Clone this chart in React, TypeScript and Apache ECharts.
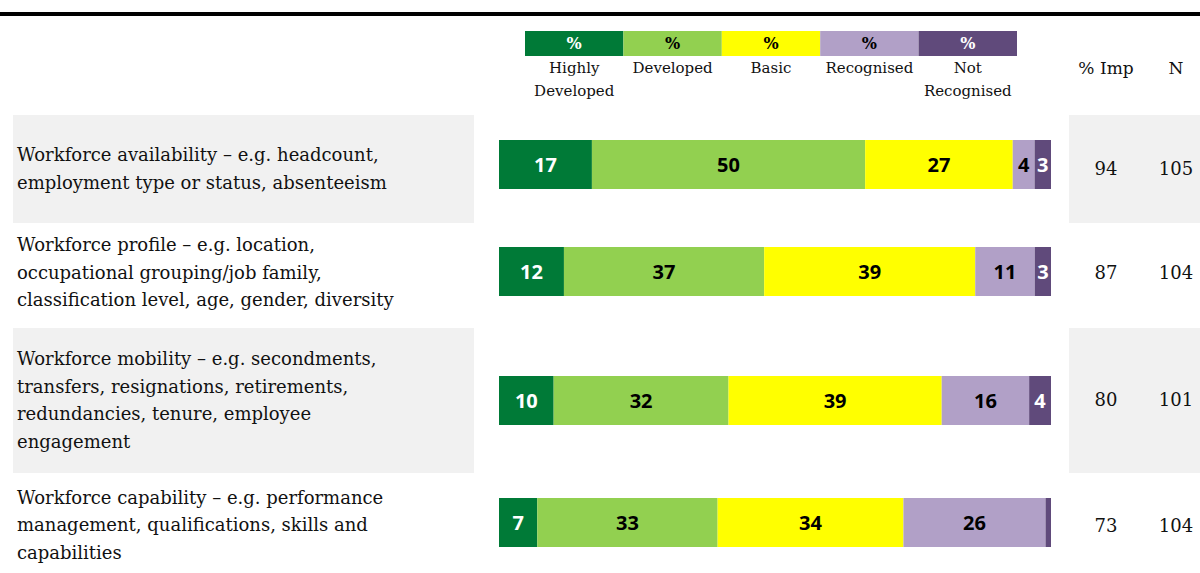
import React, { useEffect, useRef } from 'react';
import * as echarts from 'echarts';

const categories = [
  'Workforce availability – e.g. headcount,\nemployment type or status, absenteeism',
  'Workforce profile – e.g. location,\noccupational grouping/job family,\nclassification level, age, gender, diversity',
  'Workforce mobility – e.g. secondments,\ntransfers, resignations, retirements,\nredundancies, tenure, employee\nengagement',
  'Workforce capability – e.g. performance\nmanagement, qualifications, skills and\ncapabilities',
];
const levelNames = ['Highly\nDeveloped', 'Developed', 'Basic', 'Recognised', 'Not\nRecognised'];
const highlyDeveloped = [17, 12, 10, 7];
const developed = [50, 37, 32, 33];
const basic = [27, 39, 39, 34];
const recognised = [4, 11, 16, 26];
const notRecognised = [3, 3, 4, 1];
const pctImp = [94, 87, 80, 73];
const nValues = [105, 104, 101, 104];
const headers = ['% Imp', 'N'];

const colors = ['#007A37', '#92D050', '#FFFF00', '#B1A0C7', '#604A7B'];
const labelColors = ['#FFFFFF', '#000000', '#000000', '#000000', '#FFFFFF'];

const SERIF = '"DejaVu Serif", "Liberation Serif", serif';
const SANS = '"Open Sans", "Noto Sans", sans-serif';

export default function App() {
  const ref = useRef<HTMLDivElement>(null);
  useEffect(() => {
    if (!ref.current) return;
    const chart = echarts.init(ref.current, undefined, { renderer: 'svg' });
    const levels = [highlyDeveloped, developed, basic, recognised, notRecognised];
    const rowTops = [140, 247, 376, 498];
    const rowCenters = [168, 272, 399, 525];
    const labelCenters = [168.5, 272, 400, 524.5];
    const barH = 49;
    const barLeft = 499;
    const barWidthPx = 552;
    const greyBands = [
      { row: 0, y: 115, h: 108 },
      { row: 2, y: 328, h: 145 },
    ];

    const grids: any[] = [];
    const xAxes: any[] = [];
    const yAxes: any[] = [];
    const series: any[] = [];
    categories.forEach((cat, i) => {
      grids.push({ left: barLeft, width: barWidthPx, top: rowTops[i], height: barH });
      xAxes.push({ gridIndex: i, type: 'value', min: 0, max: 100, show: false });
      yAxes.push({
        gridIndex: i,
        type: 'category',
        data: [cat],
        axisLine: { show: false },
        axisTick: { show: false },
        splitLine: { show: false },
        axisLabel: { show: false },
      });
      const rowSum = levels.reduce((s, arr) => s + arr[i], 0);
      levels.forEach((arr, j) => {
        const raw = arr[i];
        series.push({
          type: 'bar',
          name: levelNames[j],
          xAxisIndex: i,
          yAxisIndex: i,
          stack: 'row' + i,
          barWidth: barH,
          data: [(raw / rowSum) * 100],
          itemStyle: { color: colors[j] },
          label: {
            show: raw >= 2,
            position: 'inside',
            formatter: () => String(raw),
            color: labelColors[j],
            fontFamily: SANS,
            fontWeight: 'bold',
            fontSize: 20,
          },
        });
      });
    });

    const graphic: any[] = [];
    graphic.push({ type: 'rect', z: -10, shape: { x: 0, y: 12, width: 1200, height: 4 }, style: { fill: '#000' } });
    greyBands.forEach((b) => {
      graphic.push({ type: 'rect', z: -10, shape: { x: 13, y: b.y, width: 461, height: b.h }, style: { fill: '#F1F1F1' } });
      graphic.push({ type: 'rect', z: -10, shape: { x: 1069, y: b.y, width: 131, height: b.h }, style: { fill: '#F1F1F1' } });
    });
    categories.forEach((cat, i) => {
      graphic.push({
        type: 'text', z: 5, x: 17, y: labelCenters[i],
        style: { text: cat, fill: '#111', font: `18px ${SERIF}`, lineHeight: 27.5, align: 'left', verticalAlign: 'middle' },
      });
    });
    const legLeft = 525;
    const legW = 98.4;
    levelNames.forEach((name, j) => {
      const cx = legLeft + legW * j + legW / 2;
      graphic.push({ type: 'rect', shape: { x: legLeft + legW * j, y: 31, width: legW, height: 25 }, style: { fill: colors[j] } });
      graphic.push({
        type: 'text', x: cx, y: 43.5,
        style: { text: '%', fill: labelColors[j], font: `bold 16px ${SERIF}`, align: 'center', verticalAlign: 'middle' },
      });
      graphic.push({
        type: 'text', x: cx, y: 56,
        style: { text: name, fill: '#111', font: `15px ${SERIF}`, lineHeight: 23, align: 'center', verticalAlign: 'top' },
      });
    });
    const colX = [1106, 1176];
    headers.forEach((h, k) => {
      graphic.push({
        type: 'text', x: colX[k], y: 68,
        style: { text: h, fill: '#111', font: `17px ${SERIF}`, align: 'center', verticalAlign: 'middle' },
      });
    });
    categories.forEach((_, i) => {
      graphic.push({
        type: 'text', x: colX[0], y: rowCenters[i],
        style: { text: String(pctImp[i]), fill: '#111', font: `18px ${SERIF}`, align: 'center', verticalAlign: 'middle' },
      });
      graphic.push({
        type: 'text', x: colX[1], y: rowCenters[i],
        style: { text: String(nValues[i]), fill: '#111', font: `18px ${SERIF}`, align: 'center', verticalAlign: 'middle' },
      });
    });

    chart.setOption({
      animation: false,
      backgroundColor: '#FFFFFF',
      grid: grids,
      xAxis: xAxes,
      yAxis: yAxes,
      series,
      graphic,
    });
    return () => chart.dispose();
  }, []);
  return (
    <div
      ref={ref}
      style={{ position: 'fixed', left: 0, top: 0, width: 1200, height: 573, background: '#fff' }}
    />
  );
}
